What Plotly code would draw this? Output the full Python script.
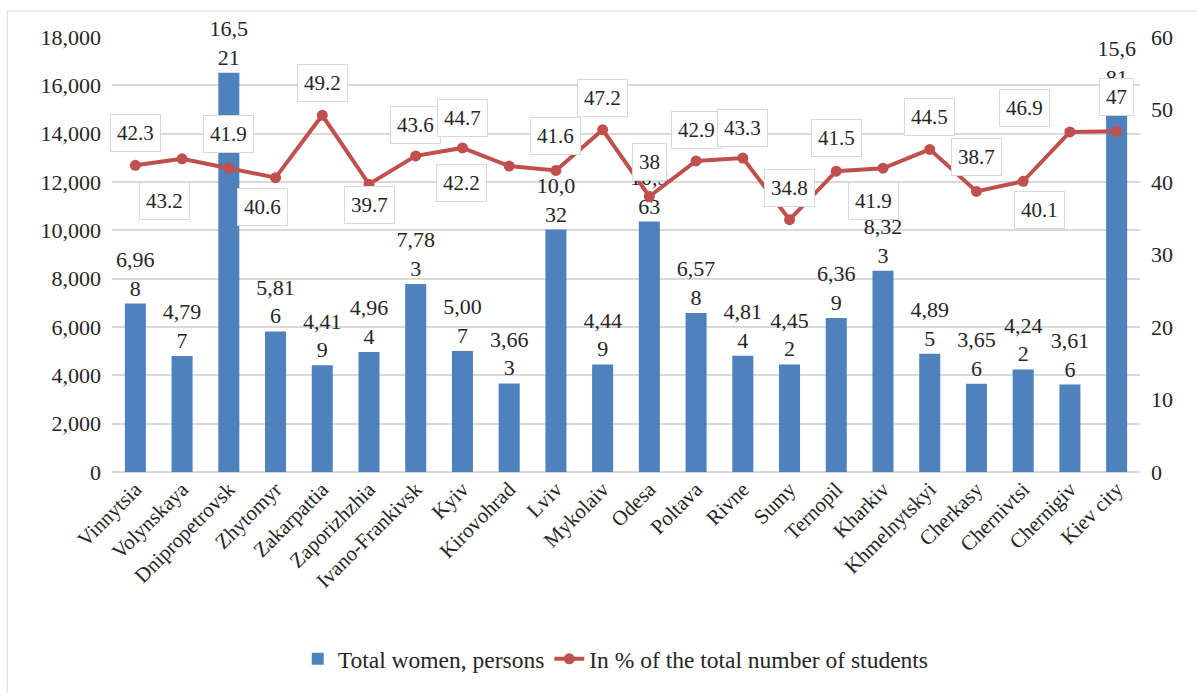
import plotly.graph_objects as go

# Regions of Ukraine
regions = [
    "Vinnytsia", "Volynskaya", "Dnipropetrovsk", "Zhytomyr", "Zakarpattia",
    "Zaporizhzhia", "Ivano-Frankivsk", "Kyiv", "Kirovohrad", "Lviv",
    "Mykolaiv", "Odesa", "Poltava", "Rivne", "Sumy", "Ternopil", "Kharkiv",
    "Khmelnytskyi", "Cherkasy", "Chernivtsi", "Chernigiv", "Kiev city",
]

# Total women students, persons
women_total = [
    6968, 4797, 16521, 5816, 4419, 4964, 7783, 5007, 3663, 10032,
    4449, 10363, 6578, 4814, 4452, 6369, 8323, 4895, 3656, 4242, 3616, 15681,
]

# Share of women in the total number of students, %
women_share = [
    42.3, 43.2, 41.9, 40.6, 49.2, 39.7, 43.6, 44.7, 42.2, 41.6,
    47.2, 38, 42.9, 43.3, 34.8, 41.5, 41.9, 44.5, 38.7, 40.1, 46.9, 47,
]

left_ticks = list(range(0, 18001, 2000))
right_ticks = list(range(0, 61, 10))

# Pixel offsets of the percentage call-outs relative to their points
label_offsets = [
    (0, 32), (-18, -42), (0, 34), (-13, -29), (0, 32), (0, -21), (0, 31),
    (0, 30), (-48, -17), (0, 34), (0, 32), (0, 35), (0, 31), (0, 30),
    (0, 32), (0, 33), (-10, -33), (0, 32), (0, 34), (16, -29), (-45, 24),
    (0, 34),
]

FONT = "Liberation Serif"
TEXT = "#262626"
BLUE = "#4F81BD"
RED = "#C0504D"


def wrapped(v):
    s = f"{v:,}"
    return s[:4] + "<br>" + s[4:]


fig = go.Figure()

fig.add_trace(go.Bar(
    x=regions, y=women_total, name="Total women, persons",
    marker=dict(color=BLUE, line=dict(width=0)),
    text=[wrapped(v) for v in women_total],
    textposition="outside", constraintext="none", cliponaxis=False,
    textfont=dict(family=FONT, size=22, color=TEXT),
    yaxis="y",
))

fig.add_trace(go.Scatter(
    x=regions, y=women_share, name="In % of the total number of students",
    mode="lines+markers",
    line=dict(color=RED, width=4),
    marker=dict(color=RED, size=11),
    yaxis="y2", cliponaxis=False,
))

for name, val, (dx, dy) in zip(regions, women_share, label_offsets):
    fig.add_annotation(
        x=name, y=val, xref="x", yref="y2",
        text=f"{val:g}", showarrow=False,
        xshift=dx, yshift=dy,
        font=dict(family=FONT, size=21, color=TEXT),
        bgcolor="white", bordercolor="#D9D9D9", borderwidth=1, borderpad=6,
    )

# Light frame around the chart area
fig.add_shape(
    type="rect", xref="paper", yref="paper",
    x0=-0.102, x1=1.2, y0=-0.7, y1=1.0595,
    line=dict(color="#D9D9D9", width=1), fillcolor="rgba(0,0,0,0)",
    layer="below",
)

fig.update_layout(
    width=1197, height=693,
    margin=dict(l=112, r=57, t=37, b=219),
    paper_bgcolor="white", plot_bgcolor="white",
    bargap=0.55,
    font=dict(family=FONT, size=21, color=TEXT),
    showlegend=True,
    legend=dict(
        orientation="h", x=0.49, xanchor="center", y=-0.43, yanchor="middle",
        font=dict(family=FONT, size=23.5, color=TEXT),
        itemwidth=30,
    ),
    xaxis=dict(
        type="category", tickangle=-45, showgrid=False, showline=False,
        ticks="", tickfont=dict(family=FONT, size=21, color=TEXT),
        range=[-0.5, len(regions) - 0.5],
    ),
    yaxis=dict(
        range=[0, 18000], tickvals=left_ticks,
        ticktext=[f"{v:,}" for v in left_ticks],
        showgrid=True, gridcolor="#D9D9D9", gridwidth=1.5,
        zeroline=True, zerolinecolor="#D9D9D9", zerolinewidth=1.5,
        showline=False, ticks="", ticklabelstandoff=10,
        tickfont=dict(family=FONT, size=22, color=TEXT),
    ),
    yaxis2=dict(
        range=[0, 60], tickvals=right_ticks, overlaying="y", side="right",
        showgrid=False, zeroline=False, showline=False, ticks="",
        ticklabelstandoff=10,
        tickfont=dict(family=FONT, size=22, color=TEXT),
    ),
)

fig.write_html("out.html")
